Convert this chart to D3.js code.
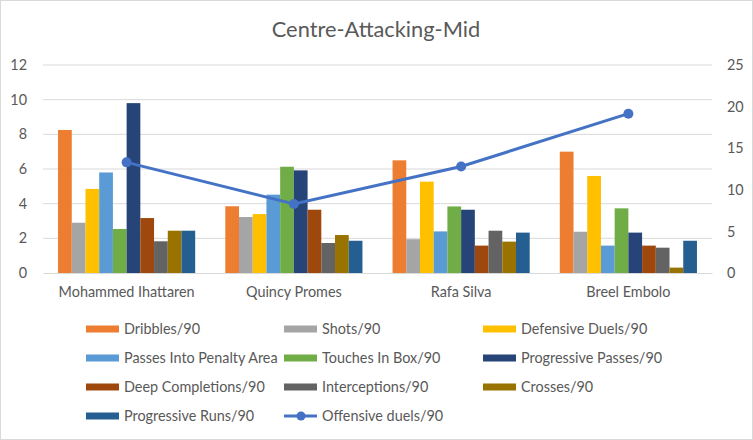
<!DOCTYPE html>
<html><head><meta charset="utf-8">
<script src="https://cdn.jsdelivr.net/npm/d3@7"></script>
<style>body{margin:0;background:#fff}svg{display:block;font-family:Lato,"Open Sans",sans-serif}</style>
</head><body><svg id="c" width="753" height="440"></svg>
<script>
const title = "Centre-Attacking-Mid";
const players = ["Mohammed Ihattaren","Quincy Promes","Rafa Silva","Breel Embolo"];
const seriesNames = ["Dribbles/90","Shots/90","Defensive Duels/90","Passes Into Penalty Area","Touches In Box/90","Progressive Passes/90","Deep Completions/90","Interceptions/90","Crosses/90","Progressive Runs/90"];
const seriesColors = ["#ED7D31","#A5A5A5","#FFC000","#5B9BD5","#70AD47","#264478","#9E480E","#636363","#997300","#255E91"];
const dribbles = [8.25,3.85,6.5,7.0];
const shots = [2.9,3.23,1.95,2.38];
const defDuels = [4.85,3.4,5.27,5.6];
const passesPen = [5.8,4.52,2.4,1.58];
const touchesBox = [2.54,6.13,3.84,3.73];
const progPasses = [9.8,5.92,3.65,2.33];
const deepCompl = [3.17,3.65,1.58,1.58];
const intercept = [1.83,1.73,2.44,1.46];
const crosses = [2.44,2.19,1.81,0.31];
const progRuns = [2.44,1.86,2.33,1.86];
const offDuelsName = "Offensive duels/90";
const offDuels = [13.3,8.3,12.8,19.15];
const leftTicks = [0,2,4,6,8,10,12];
const rightTicks = [0,5,10,15,20,25];

const barSeries = [dribbles,shots,defDuels,passesPen,touchesBox,progPasses,deepCompl,intercept,crosses,progRuns];

const svg = d3.select("#c");
const txt = "#595959";
const fs = 14.4;
svg.append("rect").attr("x",0.5).attr("y",0.5).attr("width",752).attr("height",439).attr("fill","#fff").attr("stroke","#d9d9d9");

svg.append("text").attr("x",376).attr("y",37).attr("text-anchor","middle").attr("fill",txt).attr("font-size",21.8).text(title);

const L=43,R=712,T=65,B=273;
const x0 = d3.scaleBand().domain(players).range([L,R]).paddingInner(0.18).paddingOuter(0.09);
const x1 = d3.scaleBand().domain(d3.range(barSeries.length)).range([0,x0.bandwidth()]);
const yL = d3.scaleLinear().domain([0,12]).range([B,T]);
const yR = d3.scaleLinear().domain([0,25]).range([B,T]);

// gridlines
svg.append("g").selectAll("line").data(leftTicks.slice(1)).join("line")
  .attr("x1",L).attr("x2",R).attr("y1",d=>yL(d)).attr("y2",d=>yL(d)).attr("stroke","#d9d9d9").attr("stroke-width",1);

const axL = svg.append("g").attr("transform",`translate(${L},0)`).call(d3.axisLeft(yL).tickValues(leftTicks).tickSize(0).tickPadding(16));
axL.select(".domain").remove();
axL.selectAll("text").attr("fill",txt).attr("font-size",fs).attr("font-family","Lato");
const axR = svg.append("g").attr("transform",`translate(${R},0)`).call(d3.axisRight(yR).tickValues(rightTicks).tickSize(0).tickPadding(15));
axR.select(".domain").remove();
axR.selectAll("text").attr("fill",txt).attr("font-size",fs).attr("font-family","Lato");

// bars
const groups = svg.append("g").selectAll("g").data(players).join("g").attr("transform",p=>`translate(${x0(p)},0)`);
groups.selectAll("rect").data((p,i)=>barSeries.map((s,k)=>({k,v:s[i]}))).join("rect")
  .attr("x",d=>x1(d.k)).attr("width",x1.bandwidth()).attr("y",d=>yL(d.v)).attr("height",d=>B-yL(d.v))
  .attr("fill",d=>seriesColors[d.k]);

// x axis
const axB = svg.append("g").attr("transform",`translate(0,${B})`).call(d3.axisBottom(x0).tickSize(0).tickPadding(14));
axB.select(".domain").attr("stroke","#d9d9d9");
axB.selectAll("text").attr("fill",txt).attr("font-size",fs).attr("font-family","Lato");

// line
const cx = p=>x0(p)+x0.bandwidth()/2;
svg.append("path").datum(players).attr("fill","none").attr("stroke","#4472C4").attr("stroke-width",3)
  .attr("d",d3.line().x(p=>cx(p)).y((p,i)=>yR(offDuels[i])));
svg.append("g").selectAll("circle").data(players).join("circle").attr("cx",p=>cx(p)).attr("cy",(p,i)=>yR(offDuels[i])).attr("r",5).attr("fill","#4472C4");

// legend
const legendItems = seriesNames.map((n,i)=>({n,c:seriesColors[i],line:false})).concat([{n:offDuelsName,c:"#4472C4",line:true}]);
const colX=[86,284,483], rowY=[329,358,387,416];
const lg = svg.append("g").selectAll("g").data(legendItems).join("g")
  .attr("transform",(d,i)=>`translate(${colX[i%3]},${rowY[Math.floor(i/3)]})`);
lg.each(function(d){
  const g=d3.select(this);
  if(d.line){
    g.append("line").attr("x1",0).attr("x2",33).attr("y1",0).attr("y2",0).attr("stroke",d.c).attr("stroke-width",3);
    g.append("circle").attr("cx",17).attr("cy",0).attr("r",4.5).attr("fill",d.c);
  } else {
    g.append("rect").attr("x",0).attr("y",-3.5).attr("width",33).attr("height",7).attr("fill",d.c);
  }
  g.append("text").attr("x",38).attr("y",0).attr("dy","0.35em").attr("fill",txt).attr("font-size",fs).text(d.n);
});
</script></body></html>
